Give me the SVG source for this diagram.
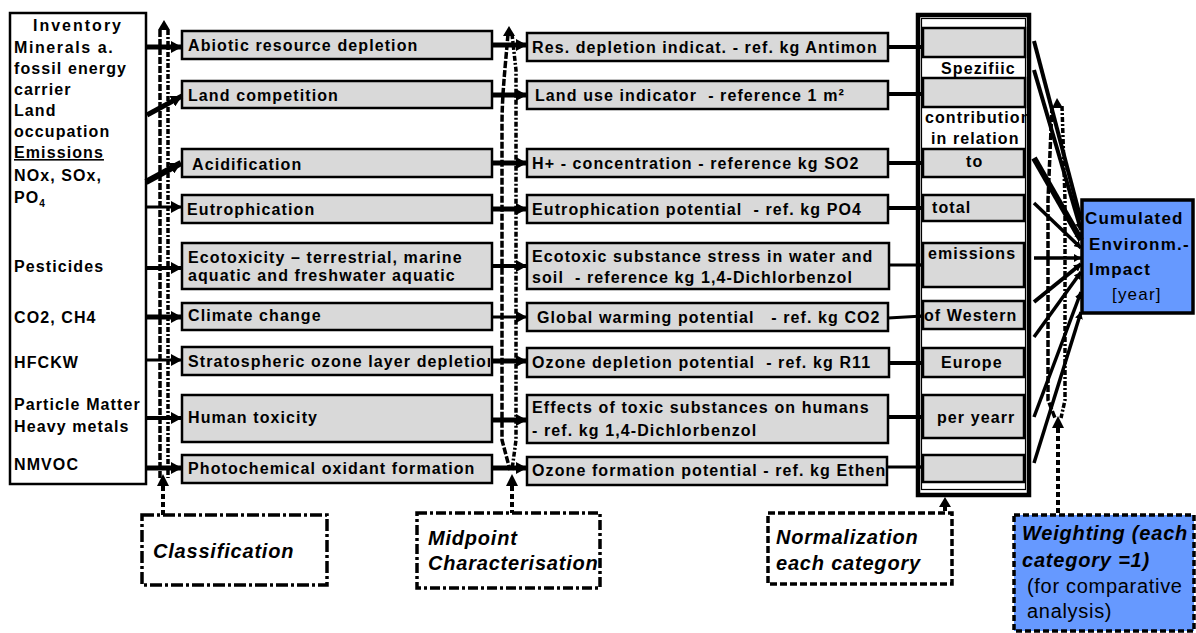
<svg xmlns="http://www.w3.org/2000/svg" width="1196" height="633" viewBox="0 0 1196 633">
  <style>
    .t { font-family: "Liberation Sans", Arial, sans-serif; font-weight: bold; font-size: 16px; letter-spacing: 1.1px; fill: #000; }
    .n { font-weight: normal; }
    .lbl { font-size: 20px; font-style: italic; letter-spacing: 0.8px; }
    .box { fill: #d9d9d9; stroke: #000; stroke-width: 2.5; }
    .blue { fill: #6699ff; }
    .arr { fill: none; stroke: #000; marker-end: url(#ah); }
    .arrs { fill: none; stroke: #000; marker-end: url(#ahs); }
    .vd { fill: none; stroke: #000; stroke-width: 3.5; }
  </style>
  <defs>
    <marker id="ah" markerUnits="userSpaceOnUse" markerWidth="11" markerHeight="12" refX="11" refY="6" orient="auto">
      <path d="M0,0 L11,6 L0,12 z" fill="#000"/>
    </marker>
    <marker id="ahs" markerUnits="userSpaceOnUse" markerWidth="7" markerHeight="8" refX="7" refY="4" orient="auto">
      <path d="M0,0 L7,4 L0,8 z" fill="#000"/>
    </marker>
    <clipPath id="normClip"><rect x="918" y="15" width="109" height="480"/></clipPath>
    <clipPath id="strClip"><rect x="182" y="347" width="308" height="28"/></clipPath>
  </defs>

  <!-- Inventory column -->
  <g id="inventory">
    <rect x="10" y="13" width="136" height="471" fill="#fff" stroke="#000" stroke-width="2.5"/>
    <text class="t" x="33" y="31" style="letter-spacing:2px">Inventory</text>
    <text class="t" x="14" y="53" style="letter-spacing:1.6px">Minerals a.</text>
    <text class="t" x="14" y="74">fossil energy</text>
    <text class="t" x="14" y="95">carrier</text>
    <text class="t" x="14" y="116">Land</text>
    <text class="t" x="14" y="137">occupation</text>
    <text class="t" x="14" y="158" text-decoration="underline">Emissions</text>
    <text class="t" x="14" y="181">NOx, SOx,</text>
    <text class="t" x="14" y="203">PO<tspan font-size="10" dy="4">4</tspan></text>
    <text class="t" x="14" y="272">Pesticides</text>
    <text class="t" x="14" y="323">CO2, CH4</text>
    <text class="t" x="14" y="368">HFCKW</text>
    <text class="t" x="14" y="410">Particle Matter</text>
    <text class="t" x="14" y="432">Heavy metals</text>
    <text class="t" x="14" y="470">NMVOC</text>
  </g>

  <!-- Impact categories -->
  <g id="categories">
    <rect class="box" x="182" y="31" width="310" height="28"/>
    <text class="t" x="188" y="51">Abiotic resource depletion</text>
    <rect class="box" x="182" y="81" width="310" height="27"/>
    <text class="t" x="188" y="101">Land competition</text>
    <rect class="box" x="182" y="149" width="310" height="28"/>
    <text class="t" x="192" y="170">Acidification</text>
    <rect class="box" x="182" y="195" width="310" height="28"/>
    <text class="t" x="187" y="215">Eutrophication</text>
    <rect class="box" x="182" y="243" width="310" height="46"/>
    <text class="t" x="188" y="263">Ecotoxicity – terrestrial, marine</text>
    <text class="t" x="188" y="281">aquatic and freshwater aquatic</text>
    <rect class="box" x="182" y="303" width="310" height="27"/>
    <text class="t" x="188" y="321">Climate change</text>
    <rect class="box" x="182" y="347" width="310" height="28"/>
    <text class="t" x="188" y="367" clip-path="url(#strClip)">Stratospheric ozone layer depletion</text>
    <rect class="box" x="182" y="395" width="310" height="47"/>
    <text class="t" x="188" y="423">Human toxicity</text>
    <rect class="box" x="182" y="455" width="310" height="28"/>
    <text class="t" x="188" y="474">Photochemical oxidant formation</text>
  </g>

  <!-- Midpoint indicators -->
  <g id="midpoints">
    <rect class="box" x="527" y="33" width="361" height="28"/>
    <text class="t" x="532" y="53">Res. depletion indicat. - ref. kg Antimon</text>
    <rect class="box" x="527" y="81" width="361" height="28"/>
    <text class="t" x="535" y="101" xml:space="preserve">Land use indicator  - reference 1 m²</text>
    <rect class="box" x="527" y="149" width="361" height="28"/>
    <text class="t" x="532" y="169">H+ - concentration - reference kg SO2</text>
    <rect class="box" x="527" y="195" width="361" height="28"/>
    <text class="t" x="532" y="215" xml:space="preserve">Eutrophication potential  - ref. kg PO4</text>
    <rect class="box" x="527" y="243" width="362" height="46"/>
    <text class="t" x="532" y="262">Ecotoxic substance stress in water and</text>
    <text class="t" x="532" y="283" xml:space="preserve">soil  - reference kg 1,4-Dichlorbenzol</text>
    <rect class="box" x="527" y="303" width="361" height="28"/>
    <text class="t" x="537" y="323" xml:space="preserve">Global warming potential   - ref. kg CO2</text>
    <rect class="box" x="527" y="348" width="362" height="29"/>
    <text class="t" x="532" y="368" xml:space="preserve">Ozone depletion potential  - ref. kg R11</text>
    <rect class="box" x="527" y="395" width="361" height="48"/>
    <text class="t" x="532" y="413">Effects of toxic substances on humans</text>
    <text class="t" x="532" y="436">- ref. kg 1,4-Dichlorbenzol</text>
    <rect class="box" x="527" y="457" width="360" height="28"/>
    <text class="t" x="532" y="476">Ozone formation potential - ref. kg Ethen</text>
  </g>

  <!-- Normalization column -->
  <g id="normalization">
    <rect x="918" y="15" width="111" height="480" fill="#fff" stroke="#000" stroke-width="4.5"/>
    <rect x="921.5" y="18.5" width="104" height="471" fill="none" stroke="#000" stroke-width="1.2"/>
    <rect class="box" x="923" y="28" width="102" height="29"/>
    <rect class="box" x="923" y="78" width="102" height="29"/>
    <rect class="box" x="923" y="149" width="101" height="28"/>
    <rect class="box" x="923" y="195" width="101" height="26"/>
    <rect class="box" x="923" y="243" width="101" height="44"/>
    <rect class="box" x="923" y="301" width="101" height="28"/>
    <rect class="box" x="923" y="348" width="101" height="29"/>
    <rect class="box" x="923" y="395" width="101" height="43"/>
    <rect class="box" x="923" y="455" width="101" height="27"/>
    <text class="t" x="941" y="74">Spezifiic</text>
    <text class="t" x="925" y="123" clip-path="url(#normClip)">contribution</text>
    <text class="t" x="931" y="144">in relation</text>
    <text class="t" x="966" y="167">to</text>
    <text class="t" x="932" y="213">total</text>
    <text class="t" x="928" y="259">emissions</text>
    <text class="t" x="924" y="321">of Western</text>
    <text class="t" x="941" y="368">Europe</text>
    <text class="t" x="937" y="423">per yearr</text>
  </g>

  <!-- Result -->
  <g id="cumulated">
    <rect class="blue" x="1082" y="200" width="111" height="113" stroke="#000" stroke-width="3.5"/>
    <text class="t" x="1085" y="224" style="font-size:17px;letter-spacing:1.2px">Cumulated</text>
    <text class="t" x="1089" y="250" style="font-size:17px;letter-spacing:1.2px">Environm.-</text>
    <text class="t" x="1089" y="275" style="font-size:17px;letter-spacing:1.2px">Impact</text>
    <text class="t n" x="1112" y="300" style="font-size:17px;letter-spacing:1.2px">[year]</text>
  </g>

  <!-- Step labels -->
  <g id="classification">
    <rect x="142" y="515" width="185" height="70" fill="#fff" stroke="#000" stroke-width="3.5" stroke-dasharray="12,3,3,3"/>
    <text class="t lbl" x="153" y="558">Classification</text>
  </g>
  <g id="characterisation">
    <rect x="417" y="513" width="183" height="75" fill="#fff" stroke="#000" stroke-width="3.5" stroke-dasharray="10,3,3,3"/>
    <text class="t lbl" x="428" y="545">Midpoint</text>
    <text class="t lbl" x="428" y="570">Characterisation</text>
  </g>
  <g id="normalization-label">
    <rect x="768" y="513" width="184" height="71" fill="#fff" stroke="#000" stroke-width="3.5" stroke-dasharray="7,3"/>
    <text class="t lbl" x="776" y="544">Normalization</text>
    <text class="t lbl" x="776" y="570">each category</text>
  </g>
  <g id="weighting">
    <rect class="blue" x="1014" y="515" width="180" height="116" stroke="#000" stroke-width="3.5" stroke-dasharray="6,3"/>
    <text class="t lbl" x="1022" y="540">Weighting (each</text>
    <text class="t lbl" x="1022" y="567">category =1)</text>
    <text class="t lbl n" x="1027" y="593" style="font-style:normal;letter-spacing:0.7px">(for comparative</text>
    <text class="t lbl n" x="1027" y="618" style="font-style:normal;letter-spacing:0.7px">analysis)</text>
  </g>

  <!-- Connectors -->
  <g id="connectors">
    <!-- inventory to categories -->
    <path class="arr" stroke-width="5" d="M146,47 L182,47"/>
    <path class="arr" stroke-width="5" d="M147,115 L182,96"/>
    <path class="arr" stroke-width="6" d="M146,182 L181,163"/>
    <path class="arr" stroke-width="3" d="M146,207 L182,207"/>
    <path class="arr" stroke-width="4" d="M146,268 L182,268"/>
    <path class="arr" stroke-width="5" d="M146,317 L182,317"/>
    <path class="arr" stroke-width="3" d="M146,360 L182,360"/>
    <path class="arr" stroke-width="4" d="M146,418 L182,418"/>
    <path class="arr" stroke-width="5" d="M146,468 L182,468"/>

    <!-- categories to midpoints -->
    <path class="arr" stroke-width="5" d="M492,45 L527,45"/>
    <path class="arr" stroke-width="5" d="M492,95 L527,95"/>
    <path class="arr" stroke-width="5" d="M492,163 L527,163"/>
    <path class="arr" stroke-width="5" d="M492,209 L527,209"/>
    <path class="arr" stroke-width="4" d="M492,266 L527,266"/>
    <path class="arr" stroke-width="3" d="M492,317 L527,317"/>
    <path class="arr" stroke-width="5" d="M492,361 L527,361"/>
    <path class="arr" stroke-width="5" d="M492,420 L527,420"/>
    <path class="arr" stroke-width="5" d="M492,468 L527,468"/>

    <!-- midpoints to normalization -->
    <path class="arrs" stroke-width="4" d="M888,47 L923,47"/>
    <path class="arrs" stroke-width="4" d="M888,94 L923,94"/>
    <path class="arrs" stroke-width="4" d="M888,163 L923,163"/>
    <path class="arrs" stroke-width="4" d="M888,208 L923,208"/>
    <path class="arrs" stroke-width="3" d="M889,265 L923,265"/>
    <path class="arrs" stroke-width="3" d="M888,318 L923,316"/>
    <path class="arrs" stroke-width="4" d="M889,363 L923,363"/>
    <path class="arrs" stroke-width="4" d="M888,417 L923,417"/>
    <path class="arrs" stroke-width="3" d="M887,467 L923,467"/>

    <!-- normalization to cumulated impact -->
    <path class="arrs" stroke-width="4" d="M1034,41 L1081,220"/>
    <path class="arrs" stroke-width="4" d="M1034,70 L1081,230"/>
    <path class="arrs" stroke-width="6" d="M1034,158 L1081,240"/>
    <path class="arrs" stroke-width="3.5" d="M1034,203 L1081,248"/>
    <path class="arrs" stroke-width="3.5" d="M1034,258 L1081,258"/>
    <path class="arrs" stroke-width="4" d="M1034,302 L1081,264"/>
    <path class="arrs" stroke-width="3.5" d="M1034,337 L1081,272"/>
    <path class="arrs" stroke-width="3.5" d="M1034,417 L1081,292"/>
    <path class="arrs" stroke-width="3.5" d="M1034,463 L1081,312"/>

    <!-- classification step: vertical dashed link -->
    <path class="vd" stroke-dasharray="7,2" d="M160,30 L160,478"/>
    <path class="vd" stroke-dasharray="5,2,2,2" d="M168,30 L168,478"/>
    <path d="M158,30 L164,20 L170,30 z" fill="#000"/>
    <path d="M157,486 L163,474 L169,486 z" fill="#000"/>
    <path fill="none" stroke="#000" stroke-width="4" stroke-dasharray="5,3" d="M163,486 L163,515"/>

    <!-- characterisation step: vertical dashed link -->
    <path class="vd" stroke-dasharray="7,2" d="M508,34 C505,70 502,95 502,125 L502,440 L510,470"/>
    <path class="vd" stroke-dasharray="5,2,2,2" d="M512,34 L516,70 L516,440 L512,470"/>
    <path d="M503,36 L509,26 L515,36 z" fill="#000"/>
    <path d="M506,486 L512,474 L518,486 z" fill="#000"/>
    <path fill="none" stroke="#000" stroke-width="4" stroke-dasharray="5,3" d="M512,486 L512,513"/>

    <!-- normalization step link -->
    <path d="M939,507 L945,497 L951,507 z" fill="#000"/>
    <path fill="none" stroke="#000" stroke-width="4" stroke-dasharray="4,2" d="M945,507 L945,513"/>

    <!-- weighting step: vertical dashed link -->
    <path class="vd" stroke-dasharray="7,2" d="M1052,106 L1048,200 L1048,400 L1055,418"/>
    <path class="vd" stroke-dasharray="5,2,2,2" d="M1062,106 L1065,200 L1065,400 L1061,418"/>
    <path d="M1052,108 L1057,98 L1063,108 z" fill="#000"/>
    <path d="M1052,428 L1058,416 L1064,428 z" fill="#000"/>
    <path fill="none" stroke="#000" stroke-width="4" stroke-dasharray="5,3" d="M1058,428 L1058,515"/>
  </g>
</svg>
